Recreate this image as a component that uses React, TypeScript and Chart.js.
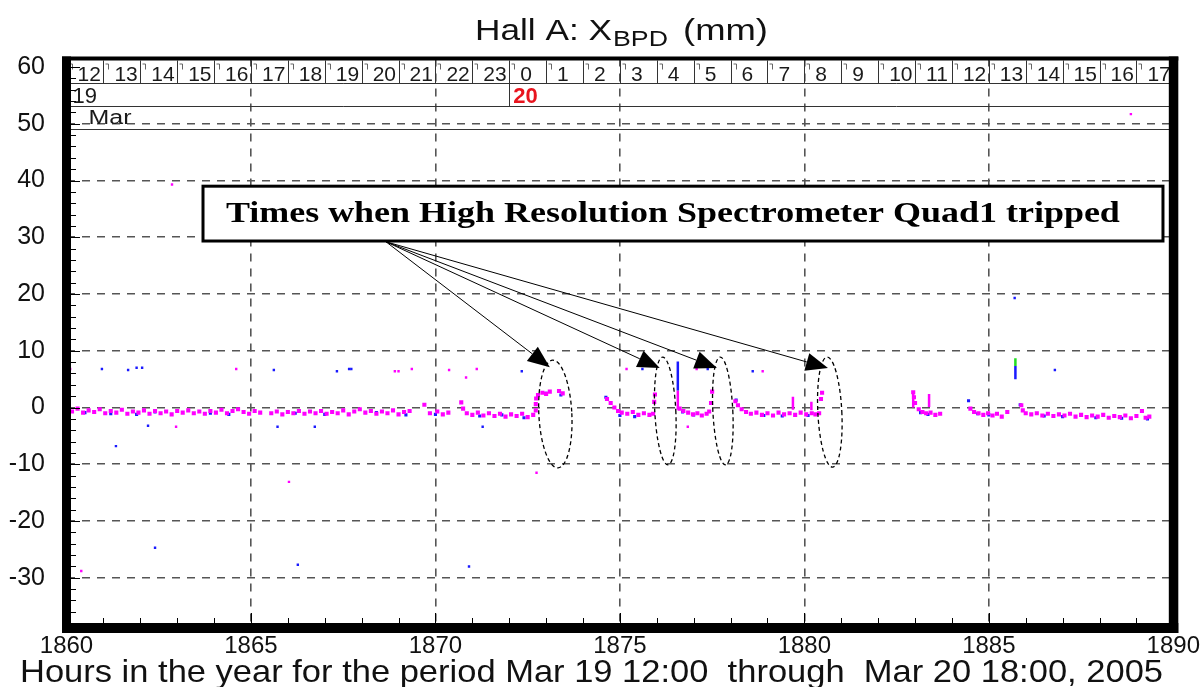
import React, { useEffect, useRef } from 'react';
import { Chart, registerables } from 'chart.js';

Chart.register(...registerables);

// ---------- axis ranges and tick labels ----------
const X_MIN = 1860;
const X_MAX = 1890;
const Y_MIN = -38.85;
const Y_MAX = 61.5;
const xTickValues = [1860, 1865, 1870, 1875, 1880, 1885, 1890];
const yTickValues = [-30, -20, -10, 0, 10, 20, 30, 40, 50, 60];
const hourLabels = ['12', '13', '14', '15', '16', '17', '18', '19', '20', '21', '22', '23', '0', '1', '2', '3', '4', '5', '6', '7', '8', '9', '10', '11', '12', '13', '14', '15', '16', '17'];
const dayStarts = [1860, 1872];
const dayLabels = ['19', '20'];
const monthLabel = 'Mar';

// ---------- series values: [hour, mm] ----------
const magentaBand: [number, number][] = [
  [1860.00, -0.3], [1860.15, -0.7], [1860.30, -0.2], [1860.45, -0.9], [1860.60, -0.5], [1860.75, -0.8], [1860.90, -0.3], [1861.05, -1.0],
  [1861.20, -0.6], [1861.35, -0.9], [1861.50, -0.4], [1861.65, -1.1], [1861.80, -0.7], [1861.95, -0.9], [1862.10, -0.5], [1862.25, -1.1],
  [1862.40, -0.6], [1862.55, -1.0], [1862.70, -0.7], [1862.85, -1.2], [1863.00, -0.6], [1863.15, -0.9], [1863.30, -0.5], [1863.45, -1.0],
  [1863.60, -0.7], [1863.75, -1.1], [1863.90, -0.6], [1864.05, -0.9], [1864.20, -0.4], [1864.35, -1.0], [1864.50, -0.6], [1864.65, -0.3],
  [1864.80, -0.8], [1864.95, -1.1], [1865.10, -0.6], [1865.25, -0.9],
  [1865.55, -1.0], [1865.70, -0.7], [1865.85, -1.2], [1866.00, -0.8], [1866.15, -1.0], [1866.30, -0.6], [1866.45, -1.1], [1866.60, -0.7],
  [1866.75, -1.0], [1866.90, -0.6], [1867.05, -1.1], [1867.20, -0.8], [1867.35, -1.0], [1867.50, -0.5], [1867.65, -1.2], [1867.80, -0.7],
  [1867.95, -0.3], [1868.10, -0.9], [1868.25, -0.6], [1868.40, -1.1], [1868.55, -0.7], [1868.70, -1.0], [1868.85, -0.5], [1869.00, -1.2],
  [1869.15, -0.8],
  [1869.30, -0.6], [1869.70, 0.5], [1869.85, -1.0], [1870.05, -0.7], [1870.20, -1.2], [1870.35, -0.9],
  [1870.70, 0.9], [1870.75, -0.2], [1870.85, -1.0], [1871.00, -1.3], [1871.15, -0.9], [1871.30, -1.4], [1871.45, -1.0], [1871.60, -1.5],
  [1871.75, -1.1], [1871.90, -1.6], [1872.05, -1.2], [1872.20, -1.5], [1872.35, -1.1], [1872.50, -1.7], [1872.65, -1.3], [1872.72, -0.5],
  [1872.72, 0.6], [1872.73, 1.6],
  [1872.78, 2.2], [1872.90, 2.6], [1873.00, 2.4], [1873.10, 2.8], [1873.35, 2.9], [1873.45, 2.5],
  [1874.65, 1.5], [1874.75, 0.8], [1874.85, 0.0], [1874.95, -0.6], [1875.05, -0.9], [1875.20, -1.1], [1875.35, -0.8], [1875.50, -1.3],
  [1875.65, -1.0], [1875.80, -1.3], [1875.90, -1.1], [1875.93, 1.0], [1875.95, 2.3],
  [1876.62, -0.2], [1876.72, -0.6], [1876.85, -0.9], [1876.98, -1.2], [1877.10, -1.0], [1877.22, -1.4], [1877.35, -1.1], [1877.42, -0.7],
  [1877.47, 0.8], [1877.50, 2.8],
  [1878.13, 1.1], [1878.20, 0.4], [1878.30, -0.3], [1878.42, -0.8], [1878.55, -1.1], [1878.70, -0.9], [1878.85, -1.3], [1879.00, -1.0],
  [1879.15, -1.4], [1879.30, -0.9], [1879.45, -1.2], [1879.60, -1.0], [1879.75, -1.3], [1879.90, -0.9], [1880.05, -1.2], [1880.20, -1.0],
  [1880.30, -1.2], [1880.40, -1.0], [1880.45, 1.5], [1880.48, 2.6],
  [1882.95, 2.7], [1882.97, 1.8], [1883.00, 0.8], [1883.10, -0.3], [1883.20, -0.8], [1883.30, -1.0], [1883.42, -0.9], [1883.55, -1.3],
  [1883.68, -1.1],
  [1884.50, -0.2], [1884.60, -0.8], [1884.72, -1.0], [1884.85, -1.3], [1884.98, -1.0], [1885.10, -1.4], [1885.22, -1.1], [1885.35, -1.6],
  [1885.50, -0.8],
  [1885.88, 0.4], [1885.92, -0.5], [1886.00, -1.0], [1886.15, -1.2], [1886.30, -1.0], [1886.45, -1.4], [1886.60, -1.1], [1886.75, -1.5],
  [1886.90, -1.2], [1887.05, -1.4], [1887.20, -1.1], [1887.35, -1.6], [1887.50, -1.3], [1887.65, -1.7], [1887.80, -1.4], [1887.95, -1.6],
  [1888.10, -1.3], [1888.25, -1.8], [1888.40, -1.5], [1888.55, -1.7], [1888.70, -1.4], [1888.85, -1.9], [1889.00, -1.5], [1889.15, -0.6],
  [1889.25, -1.8], [1889.35, -1.6],
];

const magentaOutliers: [number, number][] = [
  [1860.10, 6.8], [1860.40, -28.8], [1862.86, 39.3], [1862.97, -3.4], [1864.60, 6.8], [1866.03, -13.1], [1868.90, 6.4], [1869.00, 6.4],
  [1869.36, 6.8], [1870.37, 6.6], [1870.83, 5.3], [1871.12, 6.8], [1872.74, -11.5], [1875.18, 6.8], [1876.84, -3.4], [1877.08, 6.8],
  [1878.87, 6.4], [1888.85, 51.7],
];

const blueBand: [number, number][] = [
  [1860.50, -0.9], [1861.20, -1.1], [1861.90, -1.2], [1862.40, -0.8], [1863.90, -1.0], [1864.40, -1.2], [1866.20, -1.0], [1867.00, -1.2],
  [1868.40, -0.9], [1869.20, -1.3], [1870.00, -1.2], [1871.20, -1.5], [1871.80, -1.3], [1872.40, -1.8], [1873.00, 2.5], [1873.40, 2.2],
  [1874.62, 1.8], [1875.00, -1.4], [1875.40, -1.6], [1876.70, -0.8], [1877.00, -1.3], [1878.15, 1.3], [1878.90, -1.4], [1879.40, -1.5],
  [1880.10, -1.4], [1883.15, -0.9], [1883.35, -1.2], [1884.45, 1.2], [1884.70, -1.1], [1885.00, -1.3], [1885.85, 0.5], [1886.50, -1.5],
  [1887.00, -1.6], [1887.90, -1.8], [1888.60, -1.9], [1889.30, -2.0],
];

const blueOutliers: [number, number][] = [
  [1860.96, 6.8], [1861.67, 6.6], [1861.90, 7.0], [1862.05, 7.0], [1861.34, -6.8], [1862.21, -3.2], [1862.40, -24.7], [1865.62, 6.6],
  [1865.72, -3.4], [1866.27, -27.7], [1866.73, -3.4], [1867.33, 6.4], [1867.66, 6.8], [1867.72, 6.8], [1871.28, -3.4], [1870.91, -28.0],
  [1872.34, 6.4], [1875.61, 6.8], [1877.38, 6.8], [1878.60, 6.4], [1885.70, 19.3], [1886.79, 6.6],
];

// vertical jumps (pairs of points)
const magentaSpikes: [number, number][][] = [
  [[1876.57, 3.0], [1876.57, -0.4]],
  [[1879.69, 1.9], [1879.69, -0.4]],
  [[1880.19, 1.0], [1880.19, -0.5]],
  [[1883.38, 2.4], [1883.38, 0.1]],
  [[1882.95, 2.7], [1882.95, 0.0]],
];
const blueSpikes: [number, number][][] = [
  [[1876.57, 8.1], [1876.57, 3.0]],
  [[1885.72, 7.3], [1885.72, 5.0]],
];
const greenSpikes: [number, number][][] = [
  [[1885.72, 8.7], [1885.72, 7.3]],
];

// ---------- annotation (data coordinates) ----------
const noteText = 'Times when High Resolution Spectrometer Quad1 tripped';
const noteBox = [1863.70, 39.0, 1889.72, 29.34]; // x0, yTop, x1, yBottom
const noteTextAt = [1863.70 + 0.62, 32.7];
const arrowOrigin = [1868.66, 29.2];
const arrowTips: [number, number][] = [[1873.10, 7.1], [1876.08, 6.96], [1877.63, 6.96], [1880.64, 6.96]];
const tripEllipses: [number, number, number, number][] = [
  [1873.25, -1.15, 0.447, 9.5],
  [1876.23, -0.6, 0.285, 9.5],
  [1877.79, -0.6, 0.27, 9.5],
  [1880.69, -0.8, 0.325, 9.7],
];

const SANS = "'Liberation Sans', Arial, Helvetica, sans-serif";
const SERIF = "'Liberation Serif', 'Times New Roman', serif";

const toXY = (arr: [number, number][]) => arr.map(([x, y]) => ({ x, y }));
const segs = (list: [number, number][][]) => {
  const out: any[] = [];
  list.forEach((s, i) => {
    if (i > 0) out.push({ x: s[0][0], y: null });
    s.forEach(([x, y]) => out.push({ x, y }));
  });
  return out;
};

function fitText(ctx: CanvasRenderingContext2D, text: string, x: number, y: number, width: number, font: string) {
  ctx.font = font;
  ctx.textAlign = 'left';
  ctx.textBaseline = 'alphabetic';
  const w = ctx.measureText(text).width;
  ctx.save();
  ctx.translate(x, y);
  ctx.scale(width / w, 1);
  ctx.fillText(text, 0, 0);
  ctx.restore();
}

const overlayPlugin = {
  id: 'overlay',
  afterDraw(chart: any) {
    const { ctx, chartArea: a, scales } = chart;
    const xs = scales.x;
    const ys = scales.y;
    const px = (v: number) => xs.getPixelForValue(v);
    const py = (v: number) => ys.getPixelForValue(v);
    ctx.save();

    // ----- time header -----
    const r0 = a.top + 2;
    const r1 = r0 + 22.5;
    const r2 = r1 + 23;
    const r3 = r2 + 23;
    ctx.strokeStyle = '#333';
    ctx.lineWidth = 1;
    ctx.setLineDash([]);
    ctx.beginPath();
    [r1, r2, r3].forEach((yy) => {
      ctx.moveTo(a.left, Math.round(yy) + 0.5);
      ctx.lineTo(a.right, Math.round(yy) + 0.5);
    });
    for (let i = 1; i < hourLabels.length; i++) {
      const xx = Math.round(px(X_MIN + i)) + 0.5;
      ctx.moveTo(xx, r0);
      ctx.lineTo(xx, r1);
    }
    const dayX = Math.round(px(dayStarts[1])) + 0.5;
    ctx.moveTo(dayX, r1);
    ctx.lineTo(dayX, r2);
    ctx.stroke();
    // small tick marks in hour boxes
    ctx.strokeStyle = '#666';
    ctx.beginPath();
    for (let i = 0; i < hourLabels.length; i++) {
      const xx = Math.round(px(X_MIN + i)) + 5.5;
      ctx.moveTo(xx - 3, r0 + 3.5);
      ctx.lineTo(xx, r0 + 3.5);
      ctx.lineTo(xx, r0 + 9);
    }
    ctx.stroke();

    ctx.save();
    ctx.beginPath();
    ctx.rect(a.left, a.top, a.right - a.left, a.bottom - a.top);
    ctx.clip();
    ctx.fillStyle = '#1a1a1a';
    ctx.font = `21px ${SANS}`;
    ctx.textAlign = 'left';
    ctx.textBaseline = 'alphabetic';
    hourLabels.forEach((lab, i) => {
      ctx.fillText(lab, px(X_MIN + i) + 11, r1 - 2);
    });
    ctx.restore();

    ctx.fillStyle = '#1a1a1a';
    ctx.font = `22px ${SANS}`;
    ctx.fillText(dayLabels[0], px(dayStarts[0]) + 6, r2 - 3);
    ctx.fillStyle = '#e8141e';
    ctx.font = `bold 22px ${SANS}`;
    ctx.fillText(dayLabels[1], px(dayStarts[1]) + 4, r2 - 3);
    ctx.fillStyle = '#1a1a1a';
    fitText(ctx, monthLabel, px(X_MIN) + 22, r3 - 5, 43, `20px ${SANS}`);

    // ----- ellipses -----
    ctx.strokeStyle = '#000';
    ctx.lineWidth = 1.3;
    ctx.setLineDash([4, 3]);
    tripEllipses.forEach(([cx, cy, rx, ry]) => {
      const ex = px(cx);
      const ey = py(cy);
      const erx = Math.abs(px(cx + rx) - ex);
      const ery = Math.abs(py(cy + ry) - ey);
      ctx.beginPath();
      ctx.ellipse(ex, ey, erx, ery, -0.05, 0, Math.PI * 2);
      ctx.stroke();
    });
    ctx.setLineDash([]);

    // ----- arrows -----
    const ox = px(arrowOrigin[0]);
    const oy = py(arrowOrigin[1]);
    ctx.lineWidth = 1;
    ctx.strokeStyle = '#000';
    ctx.fillStyle = '#000';
    arrowTips.forEach(([tx0, ty0]) => {
      const tx = px(tx0);
      const ty = py(ty0);
      const ang = Math.atan2(ty - oy, tx - ox);
      const len = 22;
      const hw = 9;
      const bx = tx - len * Math.cos(ang);
      const by = ty - len * Math.sin(ang);
      ctx.beginPath();
      ctx.moveTo(ox, oy);
      ctx.lineTo(bx, by);
      ctx.stroke();
      ctx.beginPath();
      ctx.moveTo(tx, ty);
      ctx.lineTo(bx + hw * Math.sin(ang), by - hw * Math.cos(ang));
      ctx.lineTo(bx - hw * Math.sin(ang), by + hw * Math.cos(ang));
      ctx.closePath();
      ctx.fill();
    });

    // ----- note box -----
    const bx0 = px(noteBox[0]);
    const by0 = py(noteBox[1]);
    const bx1 = px(noteBox[2]);
    const by1 = py(noteBox[3]);
    ctx.fillStyle = '#fff';
    ctx.fillRect(bx0, by0, bx1 - bx0, by1 - by0);
    ctx.lineWidth = 3;
    ctx.strokeStyle = '#000';
    ctx.strokeRect(bx0, by0, bx1 - bx0, by1 - by0);
    ctx.fillStyle = '#000';
    fitText(ctx, noteText, px(noteTextAt[0]), py(noteTextAt[1]), 894, `bold 30px ${SERIF}`);

    // ----- frame -----
    ctx.fillStyle = '#000';
    ctx.fillRect(a.left - 4.5, a.top - 2, 9, a.bottom - a.top + 7);
    ctx.fillRect(a.left - 4.5, a.top - 2, a.right - a.left + 9.5, 4);
    ctx.fillRect(a.right - 4.5, a.top - 2, 9.5, a.bottom - a.top + 7);
    ctx.fillRect(a.left - 4.5, a.bottom - 5, a.right - a.left + 9.5, 10);

    // inner axis ticks
    ctx.strokeStyle = '#000';
    ctx.lineWidth = 1;
    ctx.beginPath();
    for (let v = -38; v <= 60; v += 2) {
      const yy = Math.round(py(v)) + 0.5;
      const len = v % 10 === 0 ? 9 : 5;
      ctx.moveTo(a.left + 4.5, yy);
      ctx.lineTo(a.left + 4.5 + len, yy);
    }
    for (let h = X_MIN + 1; h < X_MAX; h++) {
      const xx = Math.round(px(h)) + 0.5;
      const len = h % 5 === 0 ? 10 : 5;
      ctx.moveTo(xx, a.bottom - 5);
      ctx.lineTo(xx, a.bottom - 5 - len);
    }
    ctx.stroke();

    // ----- titles -----
    ctx.fillStyle = '#111';
    fitText(ctx, 'Hall A: X', 475, 40, 137, `30px ${SANS}`);
    fitText(ctx, 'BPD', 613, 46, 55, `22px ${SANS}`);
    fitText(ctx, '(mm)', 683, 40, 85, `30px ${SANS}`);
    fitText(ctx, 'Hours in the year for the period Mar 19 12:00  through  Mar 20 18:00, 2005', 20, 682, 1143, `32px ${SANS}`);

    ctx.restore();
  },
};

export default function App() {
  const ref = useRef<HTMLCanvasElement>(null);
  useEffect(() => {
    if (!ref.current) return;
    const gridColor = (c: any) => (c.tick && (c.tick.value === 60 || c.tick.value === X_MIN || c.tick.value === X_MAX) ? 'rgba(0,0,0,0)' : '#555');
    const chart = new Chart(ref.current, {
      type: 'scatter',
      data: {
        datasets: [
          { label: 'magenta', data: toXY(magentaBand), backgroundColor: '#ff00ff', borderColor: '#ff00ff', pointStyle: 'rect', pointRadius: 2.9, borderWidth: 0, order: 1 },
          { label: 'magenta out', data: toXY(magentaOutliers), backgroundColor: '#ff00ff', borderColor: '#ff00ff', pointStyle: 'rect', pointRadius: 1.7, borderWidth: 0, order: 1 },
          { label: 'blue', data: toXY(blueBand), backgroundColor: '#1a1aff', borderColor: '#1a1aff', pointStyle: 'rect', pointRadius: 2.2, borderWidth: 0, order: 2 },
          { label: 'blue out', data: toXY(blueOutliers), backgroundColor: '#1a1aff', borderColor: '#1a1aff', pointStyle: 'rect', pointRadius: 1.7, borderWidth: 0, order: 2 },
          { type: 'line', label: 'magenta spikes', data: segs(magentaSpikes), borderColor: '#ff00ff', borderWidth: 2.5, pointRadius: 0, showLine: true, spanGaps: false, order: 1 },
          { type: 'line', label: 'blue spikes', data: segs(blueSpikes), borderColor: '#1a1aff', borderWidth: 2.5, pointRadius: 0, showLine: true, spanGaps: false, order: 0 },
          { type: 'line', label: 'green spikes', data: segs(greenSpikes), borderColor: '#22dd22', borderWidth: 2.5, pointRadius: 0, showLine: true, spanGaps: false, order: 0 },
        ] as any,
      },
      options: {
        animation: false,
        responsive: false,
        maintainAspectRatio: false,
        devicePixelRatio: 1,
        layout: { padding: { left: 0, right: 30.5, top: 58.5, bottom: 0 } },
        plugins: { legend: { display: false }, tooltip: { enabled: false }, title: { display: false } },
        scales: {
          x: {
            type: 'linear',
            min: X_MIN,
            max: X_MAX,
            afterBuildTicks: (s: any) => { s.ticks = xTickValues.map((v) => ({ value: v })); },
            afterFit: (s: any) => { s.height = 59; },
            ticks: { color: '#111', font: { family: SANS, size: 24 }, padding: 4, maxRotation: 0, autoSkip: false, callback: (v: any) => String(v) },
            grid: { color: gridColor, lineWidth: 1.6, drawTicks: false },
            border: { display: false, dash: [8, 7] },
          },
          y: {
            type: 'linear',
            min: Y_MIN,
            max: Y_MAX,
            afterBuildTicks: (s: any) => { s.ticks = yTickValues.map((v) => ({ value: v })); },
            afterFit: (s: any) => { s.width = 66.5; },
            ticks: { color: '#111', font: { family: SANS, size: 25 }, padding: 21.5, autoSkip: false, callback: (v: any) => String(v) },
            grid: { color: gridColor, lineWidth: 1.6, drawTicks: false },
            border: { display: false, dash: [8, 7] },
          },
        },
      } as any,
      plugins: [overlayPlugin],
    });
    return () => chart.destroy();
  }, []);
  return (
    <div style={{ position: 'absolute', left: 0, top: 0, width: 1204, height: 687, background: '#fff' }}>
      <canvas ref={ref} width={1204} height={687} style={{ width: 1204, height: 687, display: 'block' }} />
    </div>
  );
}
